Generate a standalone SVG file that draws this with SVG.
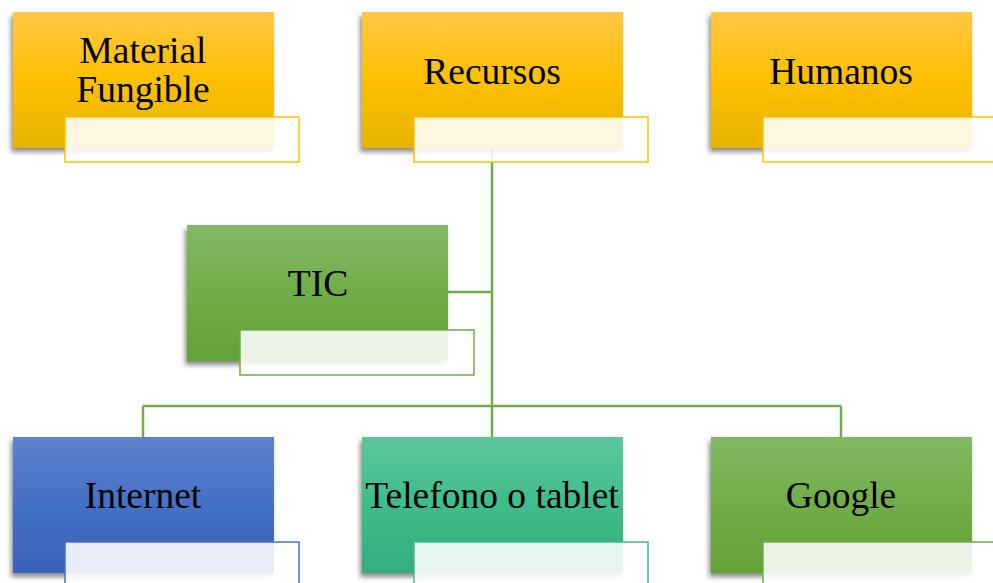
<svg xmlns="http://www.w3.org/2000/svg" width="993" height="583" viewBox="0 0 993 583">
<defs>
<linearGradient id="gY" x1="0" y1="0" x2="0" y2="1"><stop offset="0" stop-color="#FFC746"/><stop offset="0.5" stop-color="#FFC000"/><stop offset="1" stop-color="#E5B400"/></linearGradient>
<linearGradient id="gG" x1="0" y1="0" x2="0" y2="1"><stop offset="0" stop-color="#82B966"/><stop offset="0.5" stop-color="#70AD47"/><stop offset="1" stop-color="#63A238"/></linearGradient>
<linearGradient id="gB" x1="0" y1="0" x2="0" y2="1"><stop offset="0" stop-color="#6082CC"/><stop offset="0.5" stop-color="#4470C6"/><stop offset="1" stop-color="#3862B8"/></linearGradient>
<linearGradient id="gT" x1="0" y1="0" x2="0" y2="1"><stop offset="0" stop-color="#5CC69B"/><stop offset="0.5" stop-color="#3FBC8A"/><stop offset="1" stop-color="#33AE7E"/></linearGradient>
<filter id="sh" x="-10%" y="-10%" width="120%" height="130%"><feDropShadow dx="-2" dy="4" stdDeviation="2.5" flood-color="#000" flood-opacity="0.45"/></filter>
</defs>
<style>
.box{filter:url(#sh)}
.sub{fill:#fff;fill-opacity:0.88;stroke-width:1.5}
.t{font-family:"Liberation Serif","Times New Roman",serif;font-size:37.5px;fill:#000;text-anchor:middle}
.c{fill:none;stroke:#70AD47;stroke-width:2.5}
</style>
<g id="connectors">
<path class="c" d="M492 148V406M448 292H492M143 406H841M143 406V437M492 406V437M841 406V437"/>
</g>
<g id="material">
<rect class="box" x="13" y="12" width="261" height="136" fill="url(#gY)"/>
<text class="t" x="143" y="63">Material</text>
<text class="t" x="143" y="102">Fungible</text>
<rect class="sub" x="65" y="117" width="234" height="45" stroke="#FFC000"/>
</g>
<g id="recursos">
<rect class="box" x="362" y="12" width="261" height="136" fill="url(#gY)"/>
<text class="t" x="492" y="84">Recursos</text>
<rect class="sub" x="414" y="117" width="234" height="45" stroke="#FFC000"/>
</g>
<g id="humanos">
<rect class="box" x="711" y="12" width="261" height="136" fill="url(#gY)"/>
<text class="t" x="841" y="84">Humanos</text>
<rect class="sub" x="763" y="117" width="234" height="45" stroke="#FFC000"/>
</g>
<g id="tic">
<rect class="box" x="187" y="225" width="261" height="136" fill="url(#gG)"/>
<text class="t" x="318" y="296">TIC</text>
<rect class="sub" x="240" y="330" width="234" height="45" stroke="#70AD47"/>
</g>
<g id="internet">
<rect class="box" x="13" y="437" width="261" height="136" fill="url(#gB)"/>
<text class="t" x="143" y="508">Internet</text>
<rect class="sub" x="65" y="542" width="234" height="45" stroke="#4472C4"/>
</g>
<g id="telefono">
<rect class="box" x="362" y="437" width="261" height="136" fill="url(#gT)"/>
<text class="t" x="492" y="508">Telefono o tablet</text>
<rect class="sub" x="414" y="542" width="234" height="45" stroke="#3FBC8A"/>
</g>
<g id="google">
<rect class="box" x="711" y="437" width="261" height="136" fill="url(#gG)"/>
<text class="t" x="841" y="508">Google</text>
<rect class="sub" x="763" y="542" width="234" height="45" stroke="#70AD47"/>
</g>
</svg>
